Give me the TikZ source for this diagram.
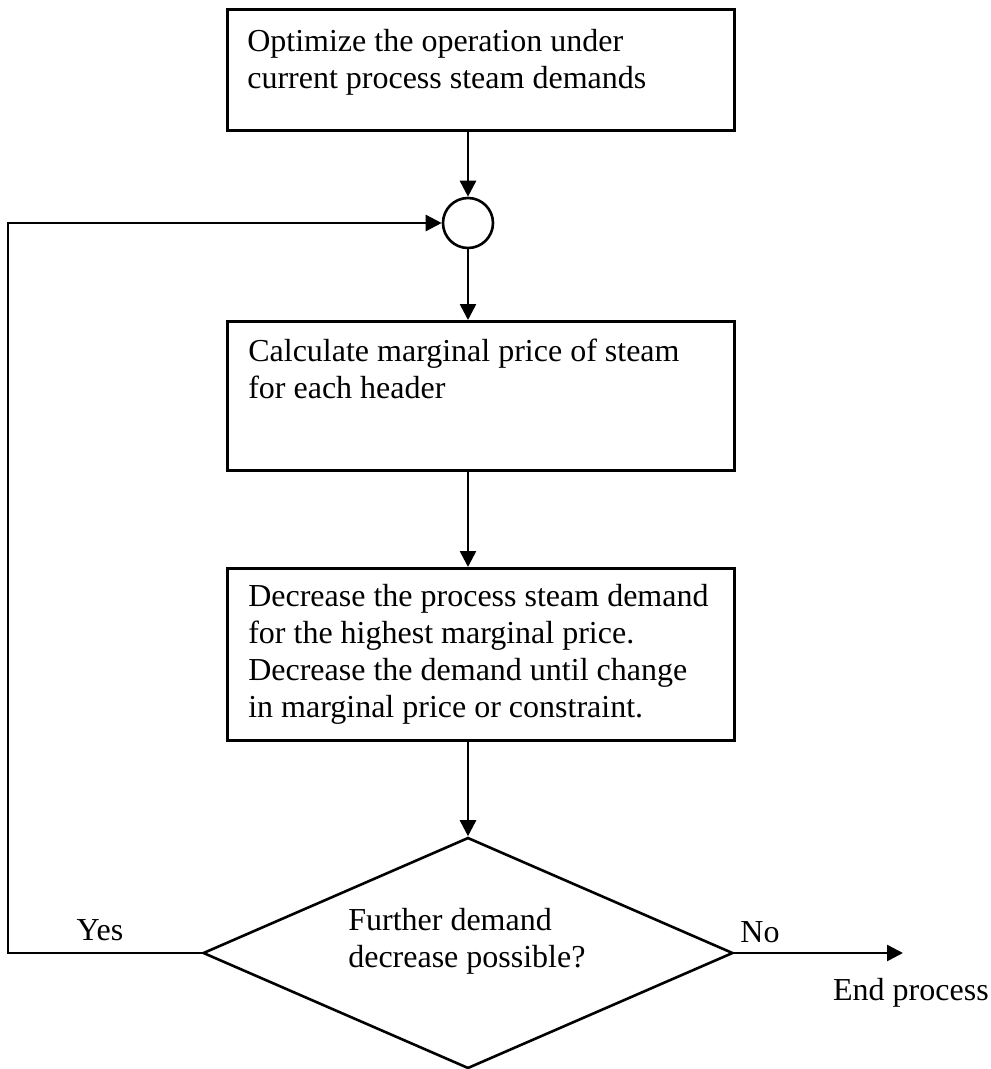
\documentclass[tikz,border=0pt]{standalone}
\usepackage{fontspec}
\setmainfont{Liberation Serif}
\usetikzlibrary{arrows.meta,shapes.geometric}
\begin{document}
\begin{tikzpicture}[x=1pt,y=-1pt,
  line width=2.6pt,
  box/.style={draw, rectangle, inner sep=0pt, anchor=north west},
  txt/.style={anchor=north west, inner sep=0pt, align=left, font=\fontsize{32}{37}\selectfont},
  lbl/.style={inner sep=0pt, font=\fontsize{32}{37}\selectfont},
  arr/.style={-{Triangle[length=16pt,width=16pt]}}
]
\useasboundingbox (0,0) rectangle (991,1069);
% boxes
\node[box, minimum width=507, minimum height=121] (b1) at (226,8) {};
\node[txt] (t1) at (246,28) {Optimize the operation under\\current process steam demands};
\node[draw, circle, minimum size=50, inner sep=0pt] (c) at (468,223) {};
\node[box, minimum width=507, minimum height=149] (b2) at (226,320) {};
\node[txt] (t2) at (247,338) {Calculate marginal price of steam\\for each header};
\node[box, minimum width=507, minimum height=172] (b3) at (226,567) {};
\node[txt] (t3) at (247,583) {Decrease the process steam demand\\for the highest marginal price.\\Decrease the demand until change\\in marginal price or constraint.};
\node[draw, diamond, minimum width=530, minimum height=231, inner sep=0pt] (d) at (468,953) {};
\node[txt] (td) at (347,907) {Further demand\\decrease possible?};
% labels
\node[lbl, anchor=base] (yes) at (100,940) {Yes};
\node[lbl, anchor=base] (no) at (760,942) {No};
\node[lbl, anchor=base east] (end) at (990,1000) {End process};
% connectors
\coordinate (lc) at (8,953);
\coordinate (ec) at (903,953);
\draw[arr] (b1.south -| c.north) -- (c.north);
\draw[arr] (c.south) -- (c.south |- b2.north);
\draw[arr] (b2.south -| c.south) -- (c.south |- b3.north);
\draw[arr] (b3.south -| d.north) -- (d.north);
\draw[arr] (d.west) -- (lc) |- (c.west);
\draw[arr] (d.east) -- (ec);
\end{tikzpicture}
\end{document}
